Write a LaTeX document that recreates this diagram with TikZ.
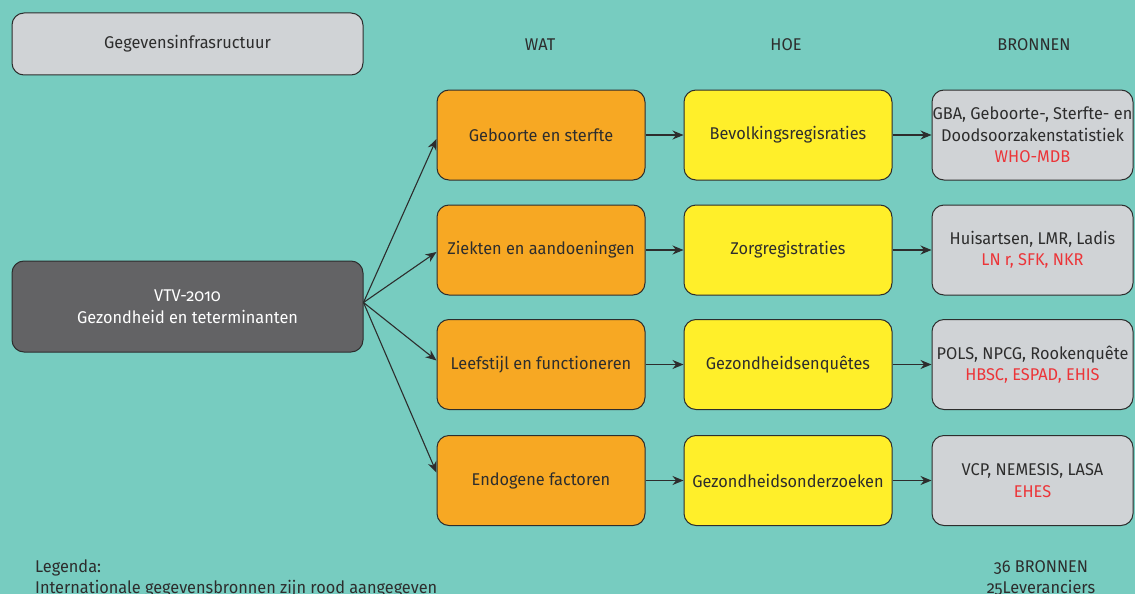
\documentclass[tikz,border=0pt]{standalone}
\usepackage{fontspec}
\setmainfont{Fira Sans}[Numbers=OldStyle,FakeStretch=0.96]
\usetikzlibrary{arrows.meta}
\definecolor{bg}{RGB}{119,204,192}
\definecolor{lgray}{RGB}{208,211,214}
\definecolor{dgray}{RGB}{99,99,101}
\definecolor{orng}{RGB}{247,168,35}
\definecolor{yell}{RGB}{255,239,42}
\definecolor{txt}{RGB}{45,45,45}
\definecolor{redtxt}{RGB}{236,52,56}
\tikzset{
  box/.style={draw=txt, line width=1pt, rounded corners=12pt, align=center, text=txt, font=\fontsize{17}{21.5}\selectfont, inner sep=0pt},
  topbox/.style={box, fill=lgray, minimum width=351pt, minimum height=62pt},
  mainbox/.style={box, fill=dgray, text=white, minimum width=351pt, minimum height=91pt},
  whatbox/.style={box, fill=orng, minimum width=208pt, minimum height=90pt},
  howbox/.style={box, fill=yell, minimum width=208pt, minimum height=90pt},
  srcbox/.style={box, fill=lgray, minimum width=201pt, minimum height=90pt},
  header/.style={text=txt, font=\fontsize{17}{21.5}\selectfont, inner sep=0pt},
  plain/.style={text=txt, font=\fontsize{17}{21}\selectfont, inner sep=0pt},
  conn/.style={draw=txt, line width=1.1pt, -{Stealth[length=11pt,width=9pt]}}
}
\newcommand{\rd}[1]{\textcolor{redtxt}{#1}}
\begin{document}
\begin{tikzpicture}[x=1pt,y=-1pt]
\fill[bg] (0,0) rectangle (1135,594);
\useasboundingbox (0,0) rectangle (1135,594);

\node[topbox] (top) at (187.5,44) {Gegevensinfrasructuur};
\node[header] (hwat) at (540,45) {WAT};
\node[header] (hhoe) at (786,45) {HOE};
\node[header] (hbron) at (1034,45) {BRONNEN};

\node[mainbox] (vtv) at (187.5,306.5) {VTV-2010\\Gezondheid en teterminanten};

\node[whatbox] (w1) at (541,135) {Geboorte en sterfte};
\node[whatbox] (w2) at (541,250) {Ziekten en aandoeningen};
\node[whatbox] (w3) at (541,364.5) {Leefstijl en functioneren};
\node[whatbox] (w4) at (541,480.5) {Endogene factoren};

\node[howbox] (h1) at (788,135) {Bevolkingsregisraties};
\node[howbox] (h2) at (788,250) {Zorgregistraties};
\node[howbox] (h3) at (788,364.5) {Gezondheidsenquêtes};
\node[howbox] (h4) at (788,480.5) {Gezondheidsonderzoeken};

\node[srcbox] (s1) at (1032.5,135) {GBA, Geboorte-, Sterfte- en\\Doodsoorzakenstatistiek\\\rd{WHO-MDB}};
\node[srcbox] (s2) at (1032.5,250) {Huisartsen, LMR, Ladis\\\rd{LN r, SFK, NKR}};
\node[srcbox] (s3) at (1032.5,364.5) {POLS, NPCG, Rookenquête\\\rd{HBSC, ESPAD, EHIS}};
\node[srcbox] (s4) at (1032.5,480.5) {VCP, NEMESIS, LASA\\\rd{EHES}};

\coordinate (src) at ([yshift=4pt]vtv.east);
\draw[conn] (src) -- ([yshift=-4pt]w1.west);
\draw[conn] (src) -- ([yshift=-2pt]w2.west);
\draw[conn] (src) -- ([yshift=4pt]w3.west);
\draw[conn] (src) -- ([yshift=8pt]w4.west);

\foreach \i in {1,2,3,4}{
  \draw[conn] (w\i.east) -- (h\i.west);
  \draw[conn] (h\i.east) -- (s\i.west);
}

\node[plain, anchor=base west, align=left] (leg) at (35,593) {Legenda:\\Internationale gegevensbronnen zijn rood aangegeven};
\node[plain, anchor=base, align=center] (tot) at (1041,593) {36 BRONNEN\\25Leveranciers};
\end{tikzpicture}
\end{document}
